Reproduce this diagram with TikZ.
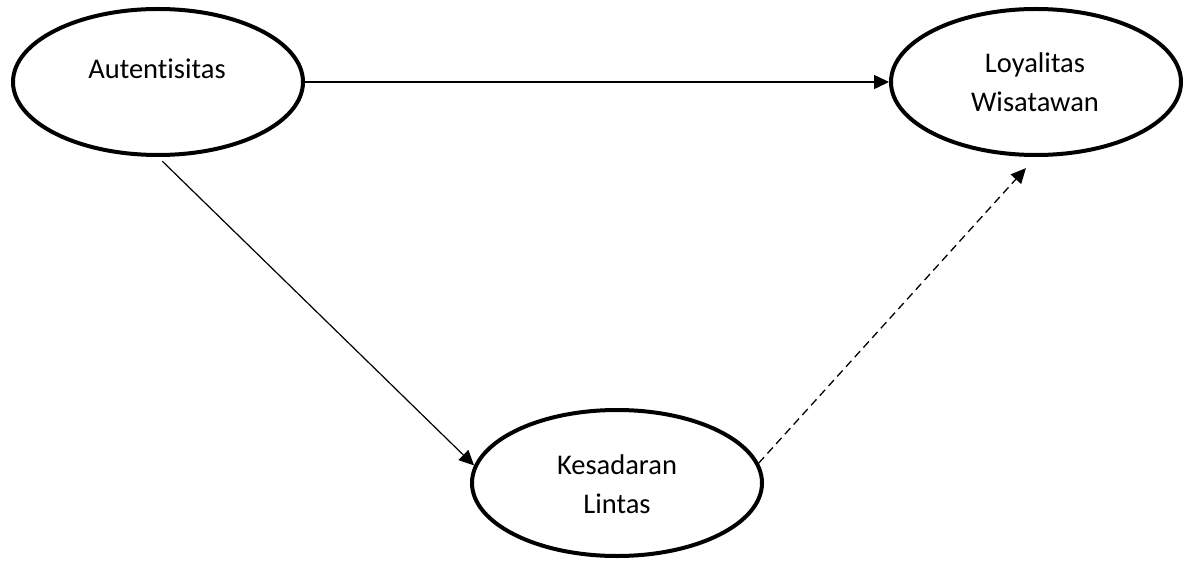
\documentclass[tikz,border=0pt]{standalone}
\usepackage{fontspec}
\setmainfont{Carlito}[Ligatures=NoCommon]
\usetikzlibrary{shapes.geometric,arrows.meta,calc}
\begin{document}
\begin{tikzpicture}[x=1pt,y=-1pt,
  construct/.style={ellipse,draw,line width=4pt,minimum width=290pt,minimum height=146pt,inner sep=0pt},
  caption/.style={anchor=base,font=\fontsize{28.5}{39}\selectfont,inner sep=0pt},
  link/.style={-{Triangle[length=15pt,width=14pt]},line width=1.5pt},
]
\useasboundingbox (0,0) rectangle (1185,561);

% constructs
\node[construct] (aut) at (158,82) {};
\node[construct] (loy) at (1036,82) {};
\node[construct] (kes) at (617,483) {};

% construct names
\node[caption] (autT)  at (157,79)  {Autentisitas};
\node[caption] (loyT1) at (1035,73) {Loyalitas};
\node[caption] (loyT2) at (1035,112) {Wisatawan};
\node[caption] (kesT1) at (617,474) {Kesadaran};
\node[caption] (kesT2) at (617,513) {Lintas};

% paths
\draw[link] (aut.east) -- (loy.west);
\draw[link,line width=1.2pt,shorten <=6pt] (aut.south) -- (kes.173);
\draw[link,line width=1.3pt,dash pattern=on 8pt off 5pt,shorten >=15pt] (kes.8) -- (loy.south);
\end{tikzpicture}
\end{document}
